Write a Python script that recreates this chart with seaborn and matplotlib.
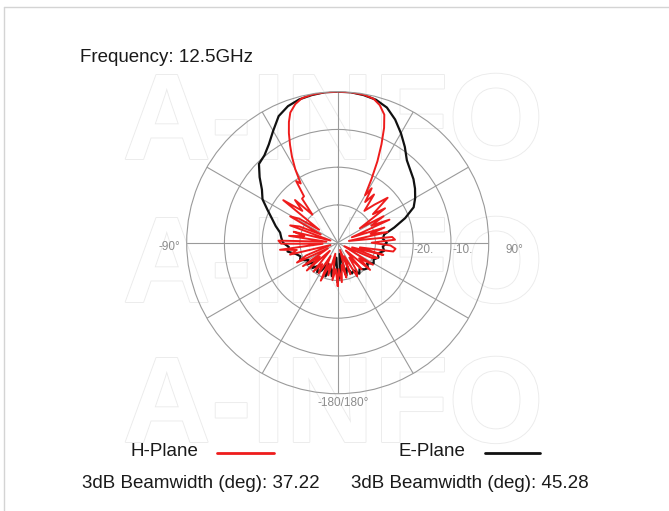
import numpy as np
import pandas as pd
import seaborn as sns
import matplotlib.pyplot as plt
import matplotlib.patheffects as pe
from matplotlib.lines import Line2D

sns.set_style('white')
plt.rcParams['font.family'] = ['Liberation Sans', 'DejaVu Sans']

# H-Plane (red) pattern, angle in deg, gain in dB
h_angles = [-180, -176, -172, -168, -164, -160, -156, -152, -148, -144,
            -140, -136, -132, -128, -124, -120, -116, -112, -108, -104,
            -100, -97, -94, -91, -88, -85, -82, -79, -76, -73,
            -70, -67, -64, -61, -58, -55, -52, -48, -45, -42,
            -39, -36, -34, -32, -30, -28, -26, -24, -22, -20,
            -17, -14, -10, -5, 0, 5, 10, 14, 17, 20,
            22, 24, 26, 28, 30, 32, 34, 37, 40, 44,
            48, 51, 54, 57, 60, 63, 66, 69, 72, 75,
            78, 81, 84, 87, 90, 93, 96, 99, 102, 105,
            108, 111, 114, 118, 122, 126, 130, 134, 138, 142,
            146, 150, 154, 158, 162, 166, 170, 174, 178, 180]
h_db = [-28.5, -33, -30, -37, -31, -34, -29, -36, -30.5, -33,
        -30, -37, -29, -34, -28.9, -37, -28, -31, -38, -27,
        -29, -24.6, -36, -25, -24.3, -37, -27, -31, -28, -38,
        -26.6, -29, -35, -25.6, -28, -34, -21.7, -27.4, -24, -30,
        -25, -24.8, -20.3, -21.5, -17.5, -14.2, -11.2, -8.2, -5.5, -3.3,
        -1.6, -0.6, -0.2, 0, 0, 0, -0.2, -0.7, -1.9, -3.9,
        -7.2, -11.5, -16, -21, -25.5, -23, -27, -24, -29, -26,
        -22.2, -28, -24.5, -33, -26, -30, -25, -36, -27, -31,
        -26.5, -37, -25.5, -24.8, -31, -26, -24.6, -25.1, -34, -27.5,
        -36, -28.7, -30, -38, -29, -33, -28.8, -37, -30.5, -35,
        -31, -29.7, -36, -31, -38, -30.5, -34, -29.5, -33, -28.5]

# E-Plane (black) pattern
e_angles = [-180, -175, -170, -165, -160, -155, -150, -145, -140, -135,
            -130, -125, -120, -115, -110, -105, -100, -95, -90, -85,
            -80, -75, -70, -65, -60, -55, -50, -45, -40, -35,
            -30, -25, -20, -15, -10, -5, 0, 5, 10, 15,
            20, 25, 30, 35, 40, 45, 50, 55, 60, 65,
            70, 75, 80, 85, 90, 95, 100, 105, 110, 115,
            120, 125, 130, 135, 140, 145, 150, 155, 160, 165,
            170, 175, 180]
e_db = [-29.5, -36, -31, -33, -30.5, -34, -31.5, -30.5, -32, -30.5,
        -32, -30, -31, -29, -29.5, -28.5, -26.5, -27, -25.5, -25,
        -24.5, -23, -21.5, -19.5, -17, -15.5, -13, -10.5, -9.8, -8.2,
        -5.8, -3, -1.5, -0.7, -0.3, 0, 0, 0, -0.3, -0.8,
        -1.9, -4, -6.5, -9, -11.5, -12.8, -13.8, -15, -16.3, -17.8,
        -21, -24.5, -27.5, -28, -27, -28, -27.5, -29, -28.5, -29.5,
        -29, -30.5, -29.5, -30, -31, -30, -31.5, -31, -33, -31,
        -37, -32, -29.5]

r_ticks = [-30, -20, -10]
theta_ticks = list(range(0, 360, 30))

h_df = pd.DataFrame({'theta': np.deg2rad(h_angles), 'gain': h_db})
e_df = pd.DataFrame({'theta': np.deg2rad(e_angles), 'gain': e_db})

W, H = 669, 511
fig = plt.figure(figsize=(W / 100, H / 100), dpi=100)

def fx(x):
    return x / W

def fy(y):
    return 1 - y / H

# watermark
for yy in [127, 270, 410]:
    fig.text(fx(333), fy(yy), 'A-INFO', fontsize=88, fontweight='bold',
             color='white', ha='center', va='center', zorder=-1,
             path_effects=[pe.withStroke(linewidth=1.3, foreground='#ebebeb')])

# page border
fig.add_artist(Line2D([fx(4), 1], [fy(7), fy(7)], color='#d4d4d4', lw=1))
fig.add_artist(Line2D([fx(4), fx(4)], [0, fy(7)], color='#d4d4d4', lw=1))

cx, cy, rad = 337.7, 242.7, 151
ax = fig.add_axes([fx(cx - rad), fy(cy + rad), 2 * rad / W, 2 * rad / H],
                  projection='polar')
ax.patch.set_visible(False)
ax.set_theta_zero_location('N')
ax.set_theta_direction(-1)
ax.set_ylim(-40, 0)
ax.set_thetagrids(theta_ticks, labels=[''] * len(theta_ticks))
ax.set_rgrids(r_ticks, labels=[''] * len(r_ticks))
ax.grid(True, color='#9a9a9a', lw=0.8)
ax.spines['polar'].set_color('#9a9a9a')
ax.spines['polar'].set_linewidth(0.8)

sns.lineplot(data=e_df, x='theta', y='gain', sort=False, estimator=None,
             color='#111111', lw=1.6, ax=ax)
sns.lineplot(data=h_df, x='theta', y='gain', sort=False, estimator=None,
             color='#ee1c1c', lw=1.4, ax=ax)
ax.set_xlabel('')
ax.set_ylabel('')

# axis labels
lab = dict(color='#8c8c8c', fontsize=8.5, va='center')
fig.text(fx(180), fy(247), '-90°', ha='right', **lab)
fig.text(fx(506), fy(250), '90°', ha='left', **lab)
fig.text(fx(343), fy(403), '-180/180°', ha='center', **lab)
fig.text(fx(414), fy(250), '-20.', ha='left', **lab)
fig.text(fx(453), fy(250), '-10.', ha='left', **lab)

txt = dict(color='#1a1a1a', fontsize=13.5, va='center')
fig.text(fx(80), fy(58), 'Frequency: 12.5GHz', ha='left', **txt)
fig.text(fx(130), fy(451), 'H-Plane', ha='left', **txt)
fig.text(fx(399), fy(451), 'E-Plane', ha='left', **txt)
fig.text(fx(82), fy(483), '3dB Beamwidth (deg): 37.22', ha='left', **txt)
fig.text(fx(351), fy(483), '3dB Beamwidth (deg): 45.28', ha='left', **txt)
fig.add_artist(Line2D([fx(217), fx(274)], [fy(453), fy(453)], color='#ee1c1c', lw=2))
fig.add_artist(Line2D([fx(485), fx(540)], [fy(453), fy(453)], color='#111111', lw=2))

fig.savefig('out.png', dpi=100)
